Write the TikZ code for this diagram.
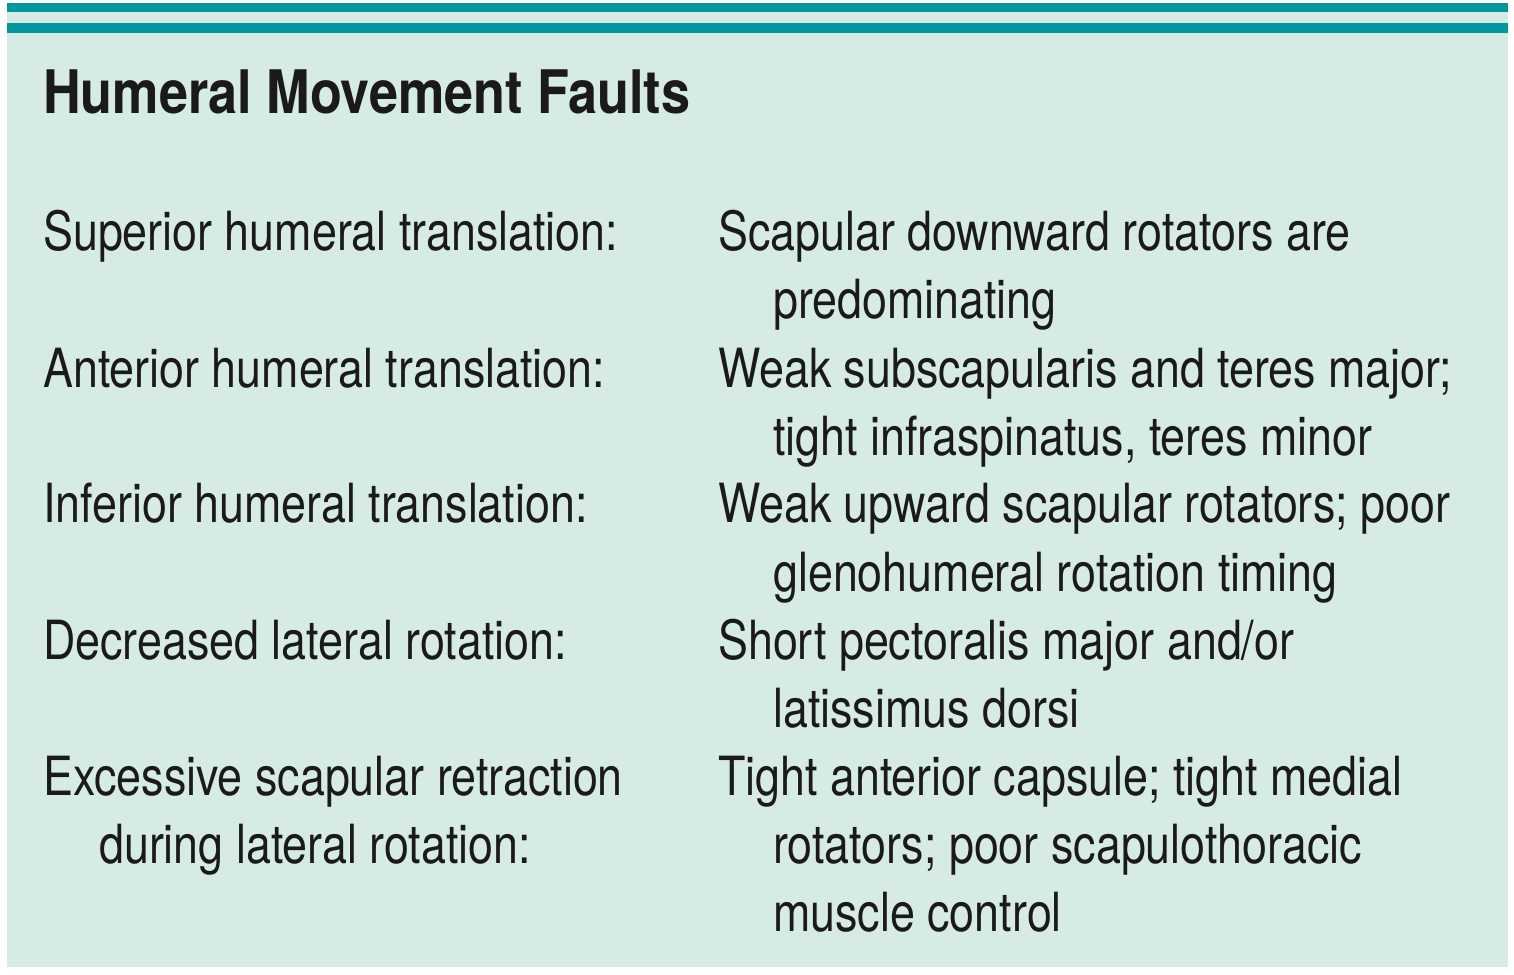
\documentclass[tikz,border=0pt]{standalone}
\usepackage{fontspec}
\setmainfont{TeX Gyre Heros}[FakeStretch=0.83]
\newfontfamily\ttlfont{TeX Gyre Heros}[FakeStretch=0.87]
\definecolor{bg}{HTML}{D6EBE4}
\definecolor{teal}{HTML}{0097A0}
\definecolor{ink}{HTML}{1A1A1A}
\begin{document}
\begin{tikzpicture}[x=1pt,y=-1pt,
  txt/.style={anchor=base west,inner sep=0pt,text=ink,font=\fontsize{54}{60}\selectfont},
  ttl/.style={anchor=base west,inner sep=0pt,text=ink,font=\ttlfont\fontsize{60}{66}\selectfont\bfseries}]
\useasboundingbox (0,0) rectangle (1514,974);
\fill[bg] (7,3) rectangle (1508,967);
\fill[teal] (7,3) rectangle (1508,12);
\fill[teal] (7,23) rectangle (1508,33);
\node[ttl] (t) at (43,113) {Humeral Movement Faults};
\node[txt] (l1) at (43,250) {Superior humeral translation:};
\node[txt] (r1) at (718,250) {Scapular downward rotators are};
\node[txt] (r1b) at (773,318) {predominating};
\node[txt] (l2) at (43,387) {Anterior humeral translation:};
\node[txt] (r2) at (718,387) {Weak subscapularis and teres major;};
\node[txt] (r2b) at (773,455) {tight infraspinatus, teres minor};
\node[txt] (l3) at (43,522) {Inferior humeral translation:};
\node[txt] (r3) at (718,522) {Weak upward scapular rotators; poor};
\node[txt] (r3b) at (773,591) {glenohumeral rotation timing};
\node[txt] (l4) at (43,659) {Decreased lateral rotation:};
\node[txt] (r4) at (718,659) {Short pectoralis major and/or};
\node[txt] (r4b) at (773,727) {latissimus dorsi};
\node[txt] (l5) at (43,795) {Excessive scapular retraction};
\node[txt] (l5b) at (99,863) {during lateral rotation:};
\node[txt] (r5) at (718,795) {Tight anterior capsule; tight medial};
\node[txt] (r5b) at (773,863) {rotators; poor scapulothoracic};
\node[txt] (r5c) at (773,931) {muscle control};
\end{tikzpicture}
\end{document}
